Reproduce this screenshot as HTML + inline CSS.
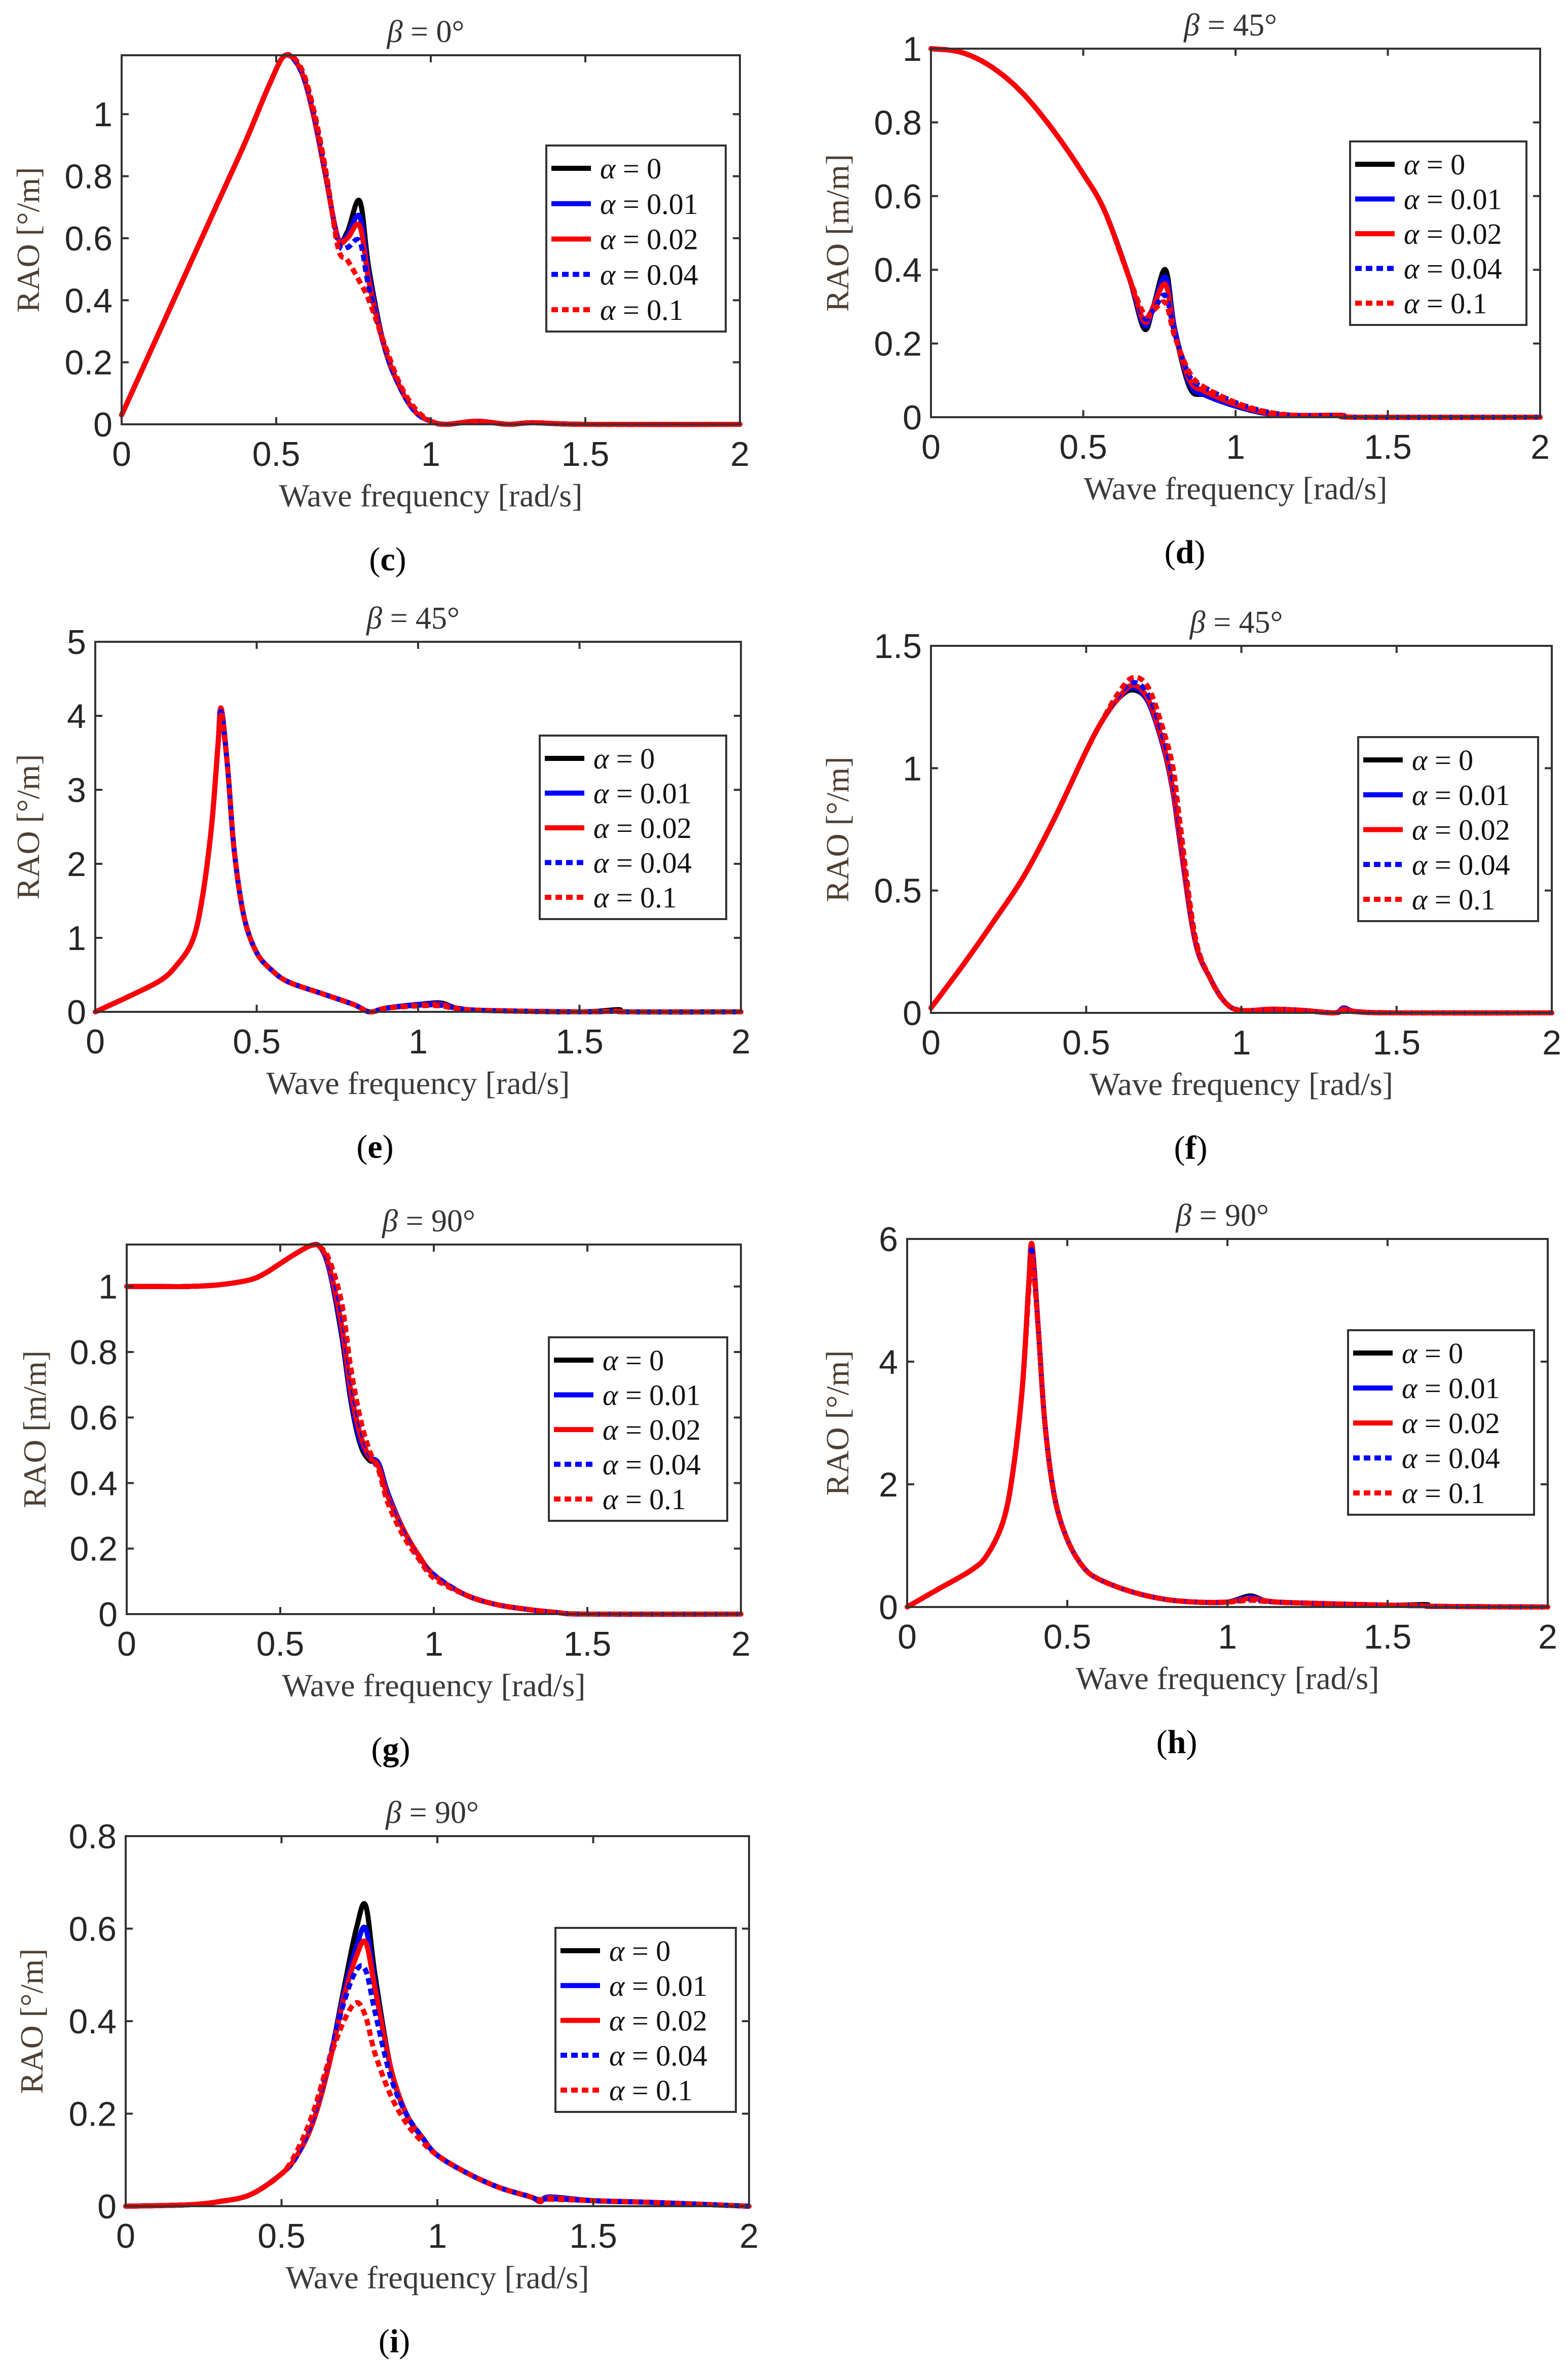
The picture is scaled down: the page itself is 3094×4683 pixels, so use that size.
<!DOCTYPE html>
<html><head><meta charset="utf-8">
<style>
html,body{margin:0;padding:0;background:#fff;}
svg{display:block;}
.tick{font-family:"Liberation Sans",Arial,sans-serif;font-size:68px;fill:#262626;}
.ser{font-family:"Liberation Serif","Times New Roman",serif;}
</style></head>
<body>
<svg id="fig" xmlns="http://www.w3.org/2000/svg" width="3094" height="4683" viewBox="0 0 3094 4683"></svg>
<script>
// ---------- DATA ----------
const seriesLabels = ["0","0.01","0.02","0.04","0.1"];
const xTicks = [0,0.5,1,1.5,2];
const xTickLabels = ["0","0.5","1","1.5","2"];

// (c) beta=0
const cFreq = [0,0.1,0.2,0.3,0.4,0.48,0.53,0.58,0.62,0.66,0.7,0.73,0.77,0.8,0.85,0.9,0.95,1.0,1.05,1.15,1.25,1.33,1.5,2.0];
const cA0   = [0.03,0.25,0.47,0.69,0.91,1.10,1.19,1.14,1.00,0.80,0.60,0.62,0.72,0.50,0.25,0.12,0.04,0.01,0.0,0.01,0.0,0.005,0,0];
const cA1   = [0.03,0.25,0.47,0.69,0.91,1.10,1.19,1.14,1.00,0.80,0.60,0.61,0.67,0.48,0.25,0.12,0.04,0.01,0.0,0.01,0.0,0.005,0,0];
const cA2   = [0.03,0.25,0.47,0.69,0.91,1.10,1.19,1.14,1.00,0.80,0.60,0.60,0.64,0.46,0.25,0.12,0.04,0.01,0.0,0.01,0.0,0.005,0,0];
const cA4   = [0.03,0.25,0.47,0.69,0.91,1.10,1.19,1.14,1.01,0.81,0.59,0.57,0.59,0.44,0.25,0.12,0.04,0.01,0.0,0.01,0.0,0.005,0,0];
const cA10  = [0.03,0.25,0.47,0.69,0.91,1.10,1.19,1.15,1.02,0.82,0.57,0.53,0.46,0.40,0.26,0.13,0.05,0.01,0.0,0.01,0.0,0.005,0,0];
const cYTicks = [0,0.2,0.4,0.6,0.8,1];
const cYLabels = ["0","0.2","0.4","0.6","0.8","1"];

// (d) beta=45 heave
const dFreq = [0,0.1,0.2,0.3,0.4,0.5,0.57,0.65,0.7,0.73,0.77,0.8,0.85,0.9,1.0,1.1,1.2,1.35,1.4,2.0];
const dA0   = [1.0,0.99,0.95,0.88,0.78,0.66,0.56,0.38,0.24,0.30,0.40,0.24,0.08,0.06,0.03,0.01,0.005,0.005,0,0];
const dA1   = [1.0,0.99,0.95,0.88,0.78,0.66,0.56,0.38,0.25,0.30,0.38,0.24,0.09,0.06,0.03,0.01,0.005,0.005,0,0];
const dA2   = [1.0,0.99,0.95,0.88,0.78,0.66,0.56,0.38,0.26,0.30,0.36,0.23,0.10,0.07,0.035,0.012,0.005,0.005,0,0];
const dA4   = [1.0,0.99,0.95,0.88,0.78,0.66,0.56,0.38,0.27,0.29,0.33,0.23,0.11,0.08,0.04,0.015,0.005,0.005,0,0];
const dA10  = [1.0,0.99,0.95,0.88,0.78,0.66,0.56,0.38,0.28,0.29,0.31,0.22,0.12,0.08,0.04,0.015,0.005,0.005,0,0];
const dYTicks = [0,0.2,0.4,0.6,0.8,1];
const dYLabels = ["0","0.2","0.4","0.6","0.8","1"];

// (e) beta=45 roll
const eFreq = [0,0.1,0.2,0.25,0.3,0.33,0.36,0.38,0.39,0.41,0.43,0.46,0.5,0.55,0.6,0.7,0.8,0.85,0.9,1.0,1.07,1.12,1.2,1.5,1.62,1.65,2.0];
const eA0   = [0,0.2,0.42,0.62,0.95,1.5,2.5,3.6,4.1,3.3,2.2,1.3,0.8,0.55,0.4,0.25,0.1,0.0,0.05,0.1,0.12,0.05,0.02,0.0,0.03,0,0];
const eA1   = [0,0.2,0.42,0.62,0.95,1.5,2.5,3.6,4.1,3.3,2.2,1.3,0.8,0.55,0.4,0.25,0.1,0.0,0.05,0.1,0.11,0.05,0.02,0.0,0.01,0,0];
const eA2   = [0,0.2,0.42,0.62,0.95,1.5,2.5,3.6,4.1,3.3,2.2,1.3,0.8,0.55,0.4,0.25,0.1,0.0,0.05,0.09,0.10,0.05,0.02,0.0,0.01,0,0];
const eA4   = [0,0.2,0.42,0.62,0.95,1.5,2.5,3.6,4.05,3.3,2.2,1.3,0.8,0.55,0.4,0.25,0.1,0.0,0.05,0.09,0.09,0.05,0.02,0.0,0.01,0,0];
const eA10  = [0,0.2,0.42,0.62,0.95,1.5,2.5,3.6,4.0,3.3,2.2,1.3,0.8,0.55,0.4,0.25,0.1,0.0,0.05,0.08,0.08,0.04,0.02,0.0,0.01,0,0];
const eYTicks = [0,1,2,3,4,5];
const eYLabels = ["0","1","2","3","4","5"];

// (f) beta=45 pitch
const fFreq = [0,0.1,0.2,0.3,0.4,0.5,0.55,0.6,0.65,0.7,0.75,0.78,0.8,0.85,0.9,0.95,1.0,1.1,1.2,1.3,1.33,1.37,1.5,2.0];
const fA0   = [0.02,0.19,0.37,0.56,0.80,1.07,1.19,1.28,1.32,1.27,1.08,0.9,0.72,0.3,0.14,0.04,0.01,0.015,0.01,0.0,0.02,0.005,0,0];
const fA1   = [0.02,0.19,0.37,0.56,0.80,1.07,1.19,1.28,1.33,1.27,1.08,0.9,0.72,0.3,0.14,0.04,0.01,0.015,0.01,0.0,0.02,0.005,0,0];
const fA2   = [0.02,0.19,0.37,0.56,0.80,1.07,1.19,1.28,1.34,1.28,1.09,0.91,0.73,0.3,0.14,0.04,0.01,0.015,0.01,0.0,0.015,0.005,0,0];
const fA4   = [0.02,0.19,0.37,0.56,0.80,1.07,1.19,1.29,1.35,1.30,1.12,0.95,0.77,0.31,0.14,0.04,0.01,0.015,0.01,0.0,0.01,0.005,0,0];
const fA10  = [0.02,0.19,0.37,0.56,0.80,1.07,1.19,1.30,1.37,1.33,1.15,1.0,0.80,0.32,0.14,0.04,0.01,0.015,0.01,0.0,0.01,0.005,0,0];
const fYTicks = [0,0.5,1,1.5];
const fYLabels = ["0","0.5","1","1.5"];

// (g) beta=90 heave
const gFreq = [0,0.1,0.2,0.3,0.4,0.45,0.5,0.55,0.6,0.63,0.66,0.7,0.73,0.76,0.79,0.82,0.85,0.9,0.95,1.0,1.1,1.2,1.3,1.4,1.5,2.0];
const gA0   = [1.0,1.0,1.0,1.005,1.02,1.04,1.07,1.10,1.125,1.12,1.05,0.85,0.65,0.52,0.47,0.46,0.37,0.26,0.18,0.12,0.06,0.03,0.015,0.005,0,0];
const gA1   = [1.0,1.0,1.0,1.005,1.02,1.04,1.07,1.10,1.125,1.12,1.05,0.86,0.66,0.53,0.48,0.46,0.37,0.26,0.18,0.12,0.06,0.03,0.015,0.005,0,0];
const gA2   = [1.0,1.0,1.0,1.005,1.02,1.04,1.07,1.10,1.125,1.12,1.06,0.88,0.68,0.55,0.48,0.45,0.36,0.26,0.18,0.12,0.06,0.03,0.015,0.005,0,0];
const gA4   = [1.0,1.0,1.0,1.005,1.02,1.04,1.07,1.10,1.125,1.12,1.07,0.92,0.72,0.58,0.49,0.44,0.35,0.25,0.17,0.12,0.06,0.03,0.015,0.005,0,0];
const gA10  = [1.0,1.0,1.0,1.005,1.02,1.04,1.07,1.10,1.125,1.12,1.08,0.95,0.75,0.60,0.50,0.44,0.34,0.24,0.17,0.11,0.06,0.03,0.015,0.005,0,0];
const gYTicks = [0,0.2,0.4,0.6,0.8,1];
const gYLabels = ["0","0.2","0.4","0.6","0.8","1"];

// (h) beta=90 roll
const hFreq = [0,0.1,0.2,0.25,0.3,0.33,0.36,0.38,0.39,0.41,0.43,0.46,0.5,0.55,0.6,0.7,0.8,0.9,1.0,1.07,1.12,1.2,1.5,1.62,1.65,2.0];
const hA0   = [0,0.3,0.6,0.85,1.4,2.2,3.6,5.3,5.9,4.5,3.0,1.8,1.1,0.65,0.45,0.25,0.13,0.08,0.08,0.18,0.1,0.07,0.03,0.04,0.01,0];
const hA1   = [0,0.3,0.6,0.85,1.4,2.2,3.6,5.3,5.9,4.5,3.0,1.8,1.1,0.65,0.45,0.25,0.13,0.08,0.08,0.16,0.1,0.07,0.03,0.02,0.01,0];
const hA2   = [0,0.3,0.6,0.85,1.4,2.2,3.6,5.3,5.9,4.5,3.0,1.8,1.1,0.65,0.45,0.25,0.13,0.08,0.08,0.14,0.1,0.07,0.03,0.02,0.01,0];
const hA4   = [0,0.3,0.6,0.85,1.4,2.2,3.6,5.2,5.8,4.5,3.0,1.8,1.1,0.65,0.45,0.25,0.13,0.08,0.08,0.12,0.09,0.07,0.03,0.02,0.01,0];
const hA10  = [0,0.3,0.6,0.85,1.4,2.2,3.6,5.2,5.7,4.5,3.0,1.8,1.1,0.65,0.45,0.25,0.13,0.08,0.08,0.11,0.09,0.07,0.03,0.02,0.01,0];
const hYTicks = [0,2,4,6];
const hYLabels = ["0","2","4","6"];

// (i) beta=90 pitch
const iFreq = [0,0.2,0.3,0.4,0.5,0.55,0.6,0.65,0.7,0.74,0.77,0.8,0.85,0.9,0.95,1.0,1.1,1.2,1.3,1.33,1.36,1.5,1.7,2.0];
const iA0   = [0,0.003,0.01,0.025,0.07,0.11,0.18,0.30,0.47,0.60,0.65,0.50,0.30,0.20,0.15,0.11,0.07,0.04,0.02,0.01,0.02,0.012,0.008,0];
const iA1   = [0,0.003,0.01,0.025,0.07,0.11,0.18,0.30,0.46,0.56,0.60,0.48,0.30,0.20,0.15,0.11,0.07,0.04,0.02,0.01,0.02,0.012,0.008,0];
const iA2   = [0,0.003,0.01,0.025,0.07,0.11,0.18,0.30,0.45,0.54,0.57,0.47,0.30,0.20,0.15,0.11,0.07,0.04,0.02,0.01,0.018,0.012,0.008,0];
const iA4   = [0,0.003,0.01,0.025,0.07,0.11,0.19,0.31,0.44,0.51,0.51,0.42,0.28,0.20,0.15,0.11,0.07,0.04,0.02,0.012,0.016,0.012,0.008,0];
const iA10  = [0,0.003,0.01,0.025,0.07,0.12,0.20,0.31,0.40,0.44,0.41,0.33,0.24,0.18,0.14,0.11,0.07,0.04,0.02,0.014,0.015,0.012,0.008,0];
const iYTicks = [0,0.2,0.4,0.6,0.8];
const iYLabels = ["0","0.2","0.4","0.6","0.8"];

// ---------- LAYOUT ----------
const NS = "http://www.w3.org/2000/svg";
const fig = document.getElementById('fig');
const styles = [
  {color:"#000000", dash:null},
  {color:"#0000ff", dash:null},
  {color:"#ff0000", dash:null},
  {color:"#0000ff", dash:"13 8"},
  {color:"#ff0000", dash:"13 8"}
];
const panels = [
  {id:"c", L:240, R:1460, T:109, B:837, ymax:1.19, title:"0", unit:"[°/m]", freq:cFreq, ser:[cA0,cA1,cA2,cA4,cA10], yt:cYTicks, yl:cYLabels, lg:[1078,287,1432,654], ylx:55},
  {id:"d", L:1837, R:3039, T:96, B:823, ymax:1.0, title:"45", unit:"[m/m]", freq:dFreq, ser:[dA0,dA1,dA2,dA4,dA10], yt:dYTicks, yl:dYLabels, lg:[2664,279,3012,641], ylx:1652},
  {id:"e", L:188, R:1462, T:1266, B:1996, ymax:5, title:"45", unit:"[°/m]", freq:eFreq, ser:[eA0,eA1,eA2,eA4,eA10], yt:eYTicks, yl:eYLabels, lg:[1065,1451,1433,1813], ylx:55},
  {id:"f", L:1837, R:3062, T:1274, B:1998, ymax:1.5, title:"45", unit:"[°/m]", freq:fFreq, ser:[fA0,fA1,fA2,fA4,fA10], yt:fYTicks, yl:fYLabels, lg:[2680,1454,3035,1817], ylx:1652},
  {id:"g", L:250, R:1462, T:2455, B:3184, ymax:1.128, title:"90", unit:"[m/m]", freq:gFreq, ser:[gA0,gA1,gA2,gA4,gA10], yt:gYTicks, yl:gYLabels, lg:[1083,2638,1435,3000], ylx:68},
  {id:"h", L:1790, R:3054, T:2444, B:3170, ymax:6, title:"90", unit:"[°/m]", freq:hFreq, ser:[hA0,hA1,hA2,hA4,hA10], yt:hYTicks, yl:hYLabels, lg:[2660,2624,3027,2988], ylx:1652},
  {id:"i", L:248, R:1478, T:3622, B:4352, ymax:0.8, title:"90", unit:"[°/m]", freq:iFreq, ser:[iA0,iA1,iA2,iA4,iA10], yt:iYTicks, yl:iYLabels, lg:[1096,3803,1452,4166], ylx:62}
];

function mk(tag, attrs, parent){
  const e = document.createElementNS(NS, tag);
  for (const k in attrs) e.setAttribute(k, attrs[k]);
  (parent||fig).appendChild(e);
  return e;
}
function smoothPath(pts){
  let d = "M"+pts[0][0].toFixed(1)+","+pts[0][1].toFixed(1);
  for (let i=0;i<pts.length-1;i++){
    const p0=pts[Math.max(0,i-1)], p1=pts[i], p2=pts[i+1], p3=pts[Math.min(pts.length-1,i+2)];
    const t=0.5/3;
    const c1=[p1[0]+(p2[0]-p0[0])*t, p1[1]+(p2[1]-p0[1])*t];
    const c2=[p2[0]-(p3[0]-p1[0])*t, p2[1]-(p3[1]-p1[1])*t];
    d+=" C"+c1[0].toFixed(1)+","+c1[1].toFixed(1)+" "+c2[0].toFixed(1)+","+c2[1].toFixed(1)+" "+p2[0].toFixed(1)+","+p2[1].toFixed(1);
  }
  return d;
}

panels.forEach(p=>{
  const g = mk('g',{});
  
  
  const xs = v => p.L + (v/2)*(p.R-p.L);
  const ys = v => p.B - (v/p.ymax)*(p.B-p.T);
  const cx = (p.L+p.R)/2;

  const clip = mk('clipPath',{id:'clip-'+p.id}, g);
  mk('rect',{x:p.L-6,y:p.T-8,width:p.R-p.L+12,height:p.B-p.T+14}, clip);

  const sg = mk('g',{'clip-path':'url(#clip-'+p.id+')'}, g);
  p.ser.forEach((arr,si)=>{
    const pts = p.freq.map((f,k)=>[xs(f), ys(arr[k])]);
    const path = mk('path',{d:smoothPath(pts), fill:'none', stroke:styles[si].color, 'stroke-width':10, 'stroke-linejoin':'round', 'stroke-linecap':styles[si].dash?'butt':'round'}, sg);
    if (styles[si].dash) path.setAttribute('stroke-dasharray', styles[si].dash);
    
    
  });

  const box = mk('rect',{x:p.L,y:p.T,width:p.R-p.L,height:p.B-p.T,fill:'none',stroke:'#333',"stroke-width":4}, g);
  
  

  xTicks.forEach((t,k)=>{
    const x = xs(t);
    mk('line',{x1:x,y1:p.B,x2:x,y2:p.B-14,stroke:'#333','stroke-width':4}, g);
    mk('line',{x1:x,y1:p.T,x2:x,y2:p.T+14,stroke:'#333','stroke-width':4}, g);
    const tx = mk('text',{x:x,y:p.B+82,'text-anchor':'middle','class':'tick'}, g);
    tx.textContent = xTickLabels[k];
    
    
  });
  p.yt.forEach((t,k)=>{
    const y = ys(t);
    mk('line',{x1:p.L,y1:y,x2:p.L+14,y2:y,stroke:'#333','stroke-width':4}, g);
    mk('line',{x1:p.R,y1:y,x2:p.R-14,y2:y,stroke:'#333','stroke-width':4}, g);
    const ty = mk('text',{x:p.L-18,y:y+24,'text-anchor':'end','class':'tick'}, g);
    ty.textContent = p.yl[k];
    
    
  });

  const tt = mk('text',{x:cx-10,y:p.T-26,'text-anchor':'middle','class':'ser','font-size':62,fill:'#333'}, g);
  tt.innerHTML = '<tspan font-style="italic">β</tspan> = '+p.title+'°';
  
  

  const xl = mk('text',{x:cx,y:p.B+162,'text-anchor':'middle','class':'ser','font-size':64,fill:'#3a3a3a'}, g);
  xl.textContent = 'Wave frequency [rad/s]';
  
  

  const ym = (p.T+p.B)/2;
  const yl = mk('text',{x:0,y:0,'text-anchor':'middle','class':'ser','font-size':64,fill:'#4d3f33',transform:'translate('+(p.ylx+22)+','+ym+') rotate(-90)'}, g);
  yl.textContent = 'RAO '+p.unit;
  
  

  const pl = mk('text',{x:cx-(p.L>1000?100:85),y:p.B+288,'text-anchor':'middle','class':'ser','font-size':66,fill:'#000'}, g);
  pl.innerHTML = '(<tspan font-weight="bold">'+p.id+'</tspan>)';
  
  

  const [lx1,ly1,lx2,ly2] = p.lg;
  const lgG = mk('g',{}, g);
  
  
  mk('rect',{x:lx1,y:ly1,width:lx2-lx1,height:ly2-ly1,fill:'#fff',stroke:'#333','stroke-width':4}, lgG);
  const step = (ly2-ly1-88)/4;
  seriesLabels.forEach((lab,si)=>{
    const y = ly1+45+si*step;
    const e = mk('g',{}, lgG);
    
    
    const ln = mk('line',{x1:lx1+10,y1:y,x2:lx1+88,y2:y,stroke:styles[si].color,'stroke-width':10}, e);
    if (styles[si].dash) ln.setAttribute('stroke-dasharray', styles[si].dash);
    const t = mk('text',{x:lx1+106,y:y+20,'class':'ser','font-size':58,fill:'#111'}, e);
    t.innerHTML = '<tspan font-style="italic">α</tspan> = '+lab;
  });
});
</script>
</body></html>
